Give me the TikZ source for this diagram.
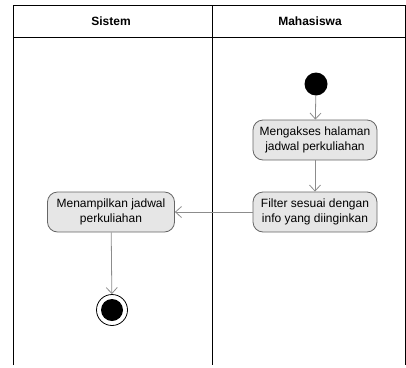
\documentclass[tikz,border=0pt]{standalone}
\usepackage{fontspec}
\setmainfont{Liberation Sans}
\usetikzlibrary{arrows.meta,positioning}
\definecolor{actfill}{HTML}{E6E6E6}
\definecolor{actline}{HTML}{666666}
\definecolor{flowline}{HTML}{8C8C8C}

\begin{document}
\begin{tikzpicture}[x=1pt, y=-1pt, >={Straight Barb[length=6pt,width=11pt]},
    act/.style={draw=actline, fill=actfill, line width=0.8pt, rounded corners=10pt,
        minimum width=124pt, minimum height=40pt, inner sep=1pt, align=center,
        font=\fontsize{12}{15}\selectfont},
    flow/.style={->, draw=flowline, line width=0.8pt},
    lanehead/.style={font=\bfseries\fontsize{12}{14}\selectfont}]
    \useasboundingbox (0,0) rectangle (406,367);

    % Swimlanes
    \draw[line width=0.8pt] (13,365) -- (13,5) -- (405,5) -- (405,365);
    \draw[line width=0.8pt] (13,37) -- (405,37);
    \draw[line width=0.8pt] (212,5) -- (212,365);
    \node[lanehead] (sistem) at (111,21) {Sistem};
    \node[lanehead] (mahasiswa) at (310,21) {Mahasiswa};

    % Activities
    \node[circle, fill=black, minimum size=23pt, inner sep=0pt] (mulai) at (316,84) {};
    \node[act] (akses) at (315,140) {Mengakses halaman\\jadwal perkuliahan};
    \node[act] (filter) at (315,212) {Filter sesuai dengan\\info yang diinginkan};
    \node[act, minimum width=127pt] (tampil) at (111,212) {Menampilkan jadwal\\perkuliahan};
    \node[circle, draw, line width=0.8pt, minimum size=31pt, inner sep=0pt] (selesai) at (112,310) {};
    \fill (selesai) circle (11);

    % Flows
    \draw[flow] (mulai) -- (akses);
    \draw[flow] (akses) -- (filter);
    \draw[flow] (filter) -- (tampil);
    \draw[flow] (tampil) -- (selesai);
\end{tikzpicture}
\end{document}
